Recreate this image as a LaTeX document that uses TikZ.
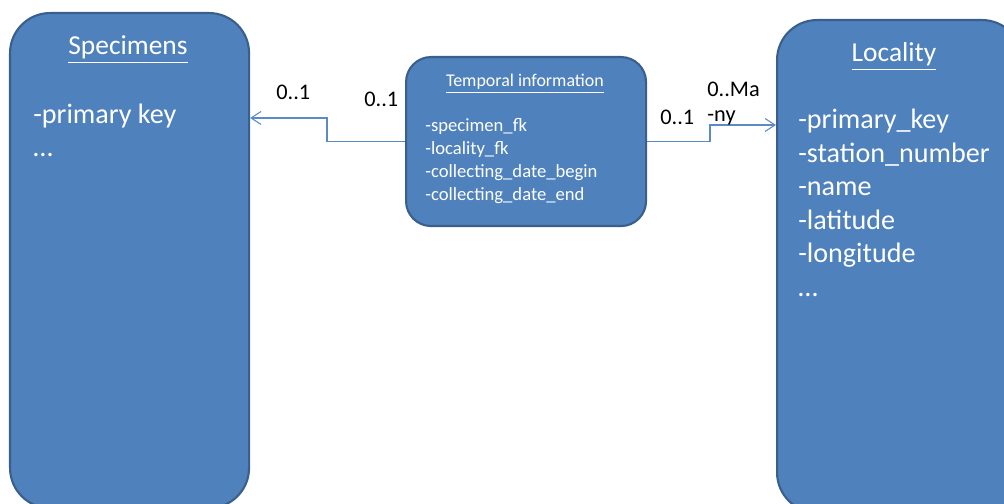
\documentclass[tikz,border=0pt]{standalone}
\usepackage{fontspec}
\setmainfont{Carlito}
\usetikzlibrary{arrows.meta,positioning}
\definecolor{boxfill}{HTML}{4F81BD}
\definecolor{boxedge}{HTML}{3A5F8C}
\definecolor{linkblue}{HTML}{5B8AC6}
\tikzset{
  % The three tables
  tablebox/.style = {draw=boxedge, line width=1.2pt, fill=boxfill, inner sep=0pt},
  % Text inside the tables
  titletext/.style = {text=white, font=\fontsize{15.6}{18.7}\selectfont, inner sep=0pt},
  bigtext/.style = {text=white, font=\fontsize{16}{19}\selectfont, inner sep=0pt},
  smalltext/.style = {text=white, font=\fontsize{10.6}{12.9}\selectfont, inner sep=0pt},
  % Multiplicities next to the links
  multtext/.style = {text=black, font=\fontsize{12.7}{15.3}\selectfont, inner sep=0pt},
  link/.style = {draw=linkblue, line width=0.6pt, -{Straight Barb[length=2mm,width=2.6mm]}}
}

\begin{document}
\begin{tikzpicture}
    \useasboundingbox (0,0) rectangle (20.08,10.08);
    % Tables
    \node[tablebox, rounded corners=0.8cm, minimum width=4.78cm, minimum height=9.9cm,
          anchor=north west] (spec) at (0.18,9.84) {};
    \node[tablebox, rounded corners=0.5cm, minimum width=4.8cm, minimum height=3.38cm,
          anchor=north west] (temp) at (8.10,8.96) {};
    \node[tablebox, rounded corners=0.8cm, minimum width=4.9cm, minimum height=9.85cm,
          anchor=north west] (loc) at (15.52,9.70) {};
    % Table titles
    \node[titletext, anchor=base] (spectitle) at (2.56,8.98) {\underline{Specimens}};
    \node[smalltext, anchor=base] (temptitle) at (10.5,8.34) {\fontsize{10.2}{12}\selectfont\underline{Temporal information}};
    \node[titletext, anchor=base] (loctitle) at (17.88,8.84) {\underline{Locality}};
    % Fields of Specimens
    \foreach \field [count=\i] in {-primary key, \dots}
    \node[bigtext, anchor=base west] (specfield\i) at (0.66,{7.60-0.66*(\i-1)}) {\field};
    % Fields of Temporal information
    \foreach \field [count=\i] in {-specimen\_fk, -locality\_fk, -collecting\_date\_begin, -collecting\_date\_end}
    \node[smalltext, anchor=base west] (tempfield\i) at (8.5,{7.44-0.454*(\i-1)}) {\field};
    % Fields of Locality
    \foreach \field [count=\i] in {-primary\_key, -station\_number, -name, -latitude, -longitude, \dots}
    \node[bigtext, anchor=base west] (locfield\i) at (15.96,{7.50-0.67*(\i-1)}) {\field};
    % Links
    \coordinate (leftbend) at (6.54,7.72);
    \coordinate (rightbend) at (14.2,7.58);
    \draw[link] (temp.west) -| (leftbend) -- (leftbend -| spec.east);
    \draw[link] (temp.east) -| (rightbend) -- (rightbend -| loc.west);
    % Multiplicities
    \node[multtext, anchor=base west] (specmult) at (5.52,8.08) {0..1};
    \node[multtext, anchor=base west] (tempmulta) at (7.28,7.94) {0..1};
    \node[multtext, anchor=base west] (tempmultb) at (13.2,7.58) {0..1};
    \node[multtext, anchor=base west] (locmulta) at (14.14,8.14) {0..Ma};
    \node[multtext, anchor=base west] (locmultb) at (14.14,7.64) {-ny};
\end{tikzpicture}
\end{document}
